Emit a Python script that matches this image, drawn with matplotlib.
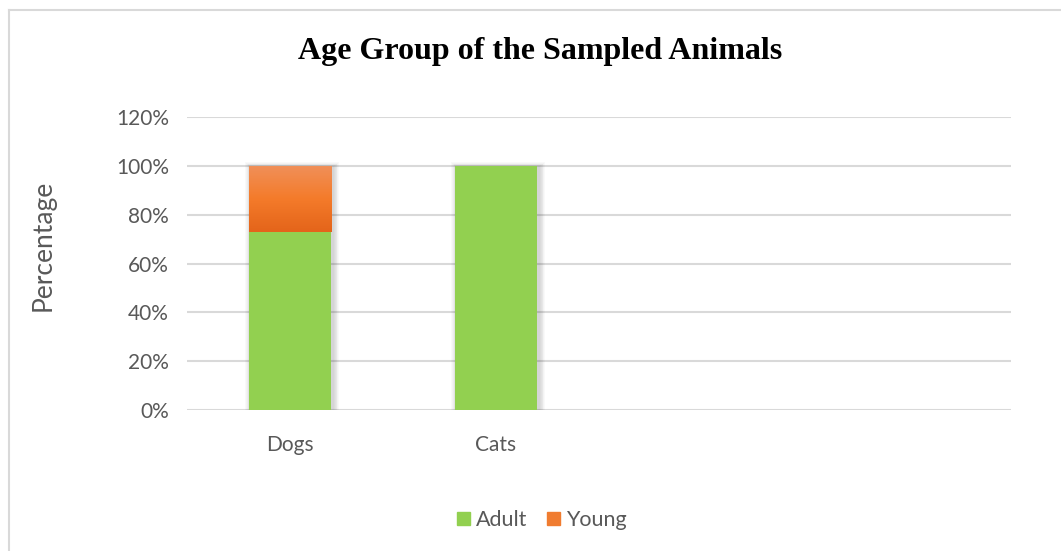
import numpy as np
import matplotlib.pyplot as plt
from matplotlib.colors import LinearSegmentedColormap
from matplotlib.lines import Line2D
from matplotlib.patches import Rectangle

# Data: share of each age group per species (percent)
categories = ["Dogs", "Cats", "", ""]
adult = [72.7, 100.0, 0.0, 0.0]
young = [27.3, 0.0, 0.0, 0.0]
yticks = [0, 20, 40, 60, 80, 100, 120]

green = "#92D050"
orange_cmap = LinearSegmentedColormap.from_list(
    "orange_grad", ["#E4641A", "#F47B2A", "#F0905A"])
text_grey = "#595959"
grid_grey = "#D9D9D9"

fig = plt.figure(figsize=(10.61, 5.51), dpi=100)
W, H = 1061.0, 551.0

# chart frame (top and left edges visible)
fig.add_artist(Line2D([9 / W, 1.0], [1 - 9.5 / H, 1 - 9.5 / H], color=grid_grey, lw=1.5))
fig.add_artist(Line2D([9 / W, 9 / W], [0, 1 - 9.5 / H], color=grid_grey, lw=1.5))

ax = fig.add_axes([187 / W, (H - 410) / H, 824 / W, (410 - 117) / H])
x = np.arange(len(categories))
width = 0.40

ax.set_yticks(yticks)
ax.set_yticklabels([f"{v}%" for v in yticks])
ax.set_xticks(x)
ax.set_xticklabels(categories)
ax.tick_params(length=0, labelsize=15, labelcolor=text_grey)
ax.tick_params(axis="y", pad=13)
ax.tick_params(axis="x", pad=18)
for lbl in ax.get_xticklabels() + ax.get_yticklabels():
    lbl.set_family("Lato")
for s in ax.spines.values():
    s.set_visible(False)
ax.grid(axis="y", color=grid_grey, lw=1.5, zorder=0)
ax.set_axisbelow(True)

# soft shadow behind each stacked column
total = np.array(adult) + np.array(young)
has_bar = total > 0
for k in range(7):
    grow = 0.008 * (k + 1)
    ax.bar(x[has_bar] + 0.01, total[has_bar] + 0.25 * (k + 1), width=width + grow,
           bottom=-0.3, color="black", alpha=0.025, lw=0, zorder=1)

ax.bar(x, adult, width=width, color=green, lw=0, zorder=3, label="Adult")
young_bars = ax.bar(x, young, width=width, bottom=adult, color="none", lw=0,
                    zorder=3, label="Young")

# vertical gradient fill for the Young segments
grad = np.linspace(0, 1, 256).reshape(-1, 1)
for b in young_bars:
    if b.get_height() <= 0:
        continue
    x0, y0 = b.get_x(), b.get_y()
    im = ax.imshow(grad, cmap=orange_cmap, aspect="auto", origin="lower",
                   extent=[x0, x0 + b.get_width(), y0, y0 + b.get_height()],
                   zorder=3.5)
    im.set_clip_path(b)
ax.set_xlim(-0.5, len(categories) - 0.5)
ax.set_ylim(0, 120)

ax.set_ylabel("Percentage", fontsize=19, color=text_grey, family="Lato", va="center")
ax.yaxis.set_label_coords((43 - 187) / 824, (410 - 245) / 293)

fig.suptitle("Age Group of the Sampled Animals", x=540 / W, y=1 - 52 / H,
             fontsize=23, fontweight="bold", family="Liberation Serif", va="center")

handles = [Rectangle((0, 0), 1, 1, color=green),
           Rectangle((0, 0), 1, 1, color="#F07C30")]
fig.legend(handles, ["Adult", "Young"], loc="center", bbox_to_anchor=(542 / W, 1 - 520 / H),
           ncol=2, frameon=False, handlelength=0.6, handleheight=0.6,
           handletextpad=0.3, columnspacing=0.9,
           prop={"family": "Lato", "size": 15.5}, labelcolor=text_grey)

fig.savefig("out.png", dpi=100)
